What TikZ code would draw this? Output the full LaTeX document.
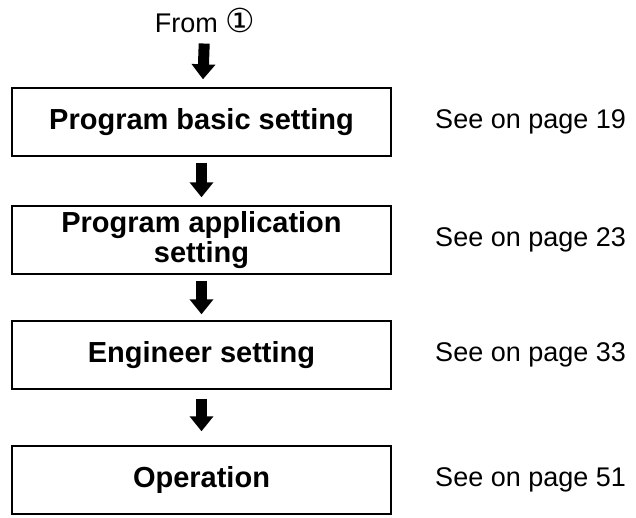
\documentclass[tikz,border=0pt]{standalone}
\usepackage{fontspec}
\setmainfont{Liberation Sans}
\newfontfamily\circfont{DejaVu Sans}
\usetikzlibrary{arrows.meta}
\usetikzlibrary{positioning}

\begin{document}
\begin{tikzpicture}[x=1pt,y=-1pt,
	stepbox/.style={draw, line width=1.4pt, minimum width=379pt, minimum height=68pt, align=center, font=\fontsize{29}{30}\selectfont\bfseries},
	pagelabel/.style={anchor=west, font=\fontsize{27}{30}\selectfont},
	flow/.style={line width=11pt, -{Triangle[width=23pt,length=15pt]}, shorten <=7pt, shorten >=8pt}]
	\useasboundingbox (0,0) rectangle (636,518);
	\node[font=\fontsize{27}{30}\selectfont, inner sep=0pt] (from) at (205,20) {From {\circfont\fontsize{33}{33}\selectfont ①}};
	\node[stepbox] (b1) at (201.5,122) {Program basic setting};
	\node[stepbox] (b2) at (201.5,240) {Program application\\setting};
	\node[stepbox] (b3) at (201.5,355) {Engineer setting};
	\node[stepbox] (b4) at (201.5,480) {Operation};
	\node[pagelabel, right=40pt of b1] (p1) {See on page 19};
	\node[pagelabel, right=40pt of b2] (p2) {See on page 23};
	\node[pagelabel, right=40pt of b3] (p3) {See on page 33};
	\node[pagelabel, right=40pt of b4] (p4) {See on page 51};
	\draw[flow, shorten <=11pt, shorten >=8pt] (from) -- (b1);
	\draw[flow, shorten <=6pt] (b1) -- (b2);
	\draw[flow, shorten <=6pt, shorten >=6pt] (b2) -- (b3);
	\draw[flow, shorten <=9pt, shorten >=14pt] (b3) -- (b4);
\end{tikzpicture}
\end{document}
